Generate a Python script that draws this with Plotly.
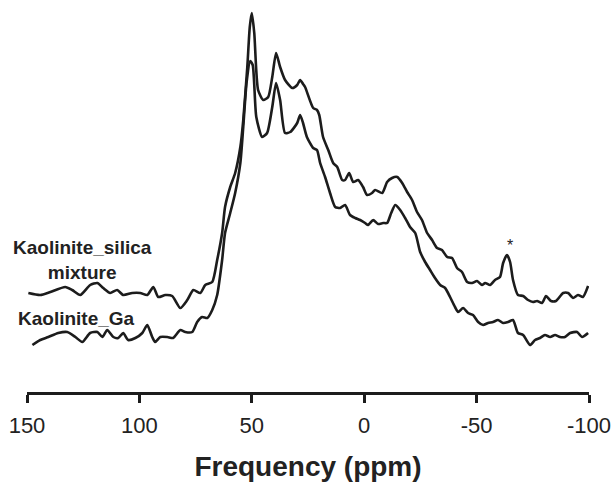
import plotly.graph_objects as go

# Chemical shift axis (ppm) and intensities (arbitrary units)
silica_ppm = [149.4, 144.1, 139.6, 133.0, 129.9, 126.3, 121.9, 118.7, 116.1, 113.0,
              109.9, 107.2, 103.2, 99.6, 96.5, 93.8, 91.6, 88.5, 85.4, 81.8,
              78.7, 76.0, 72.9, 70.7, 67.6, 65.4, 63.2, 61.9, 59.6, 57.4,
              55.1, 53.8, 52.0, 50.9, 50.0, 48.9, 47.2, 44.9, 42.7, 40.9, 39.2,
              37.4, 35.2, 32.0, 29.8, 28.5, 27.2, 26.3, 22.7, 21.0, 20.0,
              18.3, 16.0, 13.8, 12.0, 9.8, 8.5, 6.7, 4.9, 2.7, 0.5,
              -1.3, -3.5, -4.9, -8.0, -10.2, -12.4, -14.7, -16.9, -19.1, -21.3,
              -23.5, -25.7, -28.0, -30.2, -32.4, -34.6, -36.9, -39.1, -41.3, -43.5,
              -45.8, -48.0, -50.2, -52.4, -53.8, -56.0, -58.2, -60.4, -61.8, -63.5,
              -64.9, -66.2, -68.4, -70.7, -72.9, -75.1, -76.9, -79.1, -80.9, -83.1,
              -85.3, -88.5, -90.7, -92.9, -95.1, -97.3, -99.6]
silica_int = [99, 97, 100, 105, 102, 97, 107, 109, 104, 99,
              102, 97, 99, 99, 97, 105, 95, 97, 96, 84,
              92, 102, 99, 107, 110, 132, 159, 185, 205, 219,
              245, 272, 325, 365, 379, 359, 302, 292, 295, 315, 339,
              325, 312, 304, 307, 312, 308, 305, 284, 282, 277,
              255, 242, 229, 225, 212, 212, 219, 210, 212, 205,
              197, 199, 202, 199, 210, 214, 215, 209, 200, 192,
              180, 172, 159, 152, 144, 142, 135, 134, 124, 120,
              110, 109, 111, 107, 109, 107, 112, 115, 129, 137,
              130, 112, 97, 96, 92, 90, 91, 89, 96, 91,
              91, 99, 99, 94, 97, 95, 106]

ga_ppm = [147.6, 144.1, 140.5, 136.1, 132.1, 128.5, 125.4, 121.9, 118.7, 116.5,
          114.3, 111.6, 109.4, 107.2, 105.0, 101.8, 98.7, 96.5, 94.3, 93.0,
          90.7, 87.6, 85.0, 81.8, 79.6, 76.5, 74.3, 72.1, 69.8, 67.6,
          65.4, 63.2, 61.9, 59.6, 57.4, 55.1, 53.8, 52.3, 50.7, 49.6,
          48.0, 45.4, 43.2, 40.9, 39.2, 37.4, 35.2, 32.9, 29.8, 28.5,
          27.2, 25.5, 22.7, 21.0, 19.6, 17.4, 15.2, 12.9, 10.7, 8.5,
          6.3, 4.0, 1.8, -0.4, -1.7, -4.0, -6.2, -8.4, -10.2, -12.0,
          -13.8, -16.0, -18.2, -20.4, -22.7, -24.9, -27.1, -29.3, -31.5, -33.8,
          -36.0, -38.2, -40.4, -41.8, -44.0, -46.2, -48.4, -50.7, -52.9, -55.1,
          -57.3, -59.5, -61.8, -64.0, -66.2, -68.4, -70.7, -73.8, -76.0, -78.2,
          -80.4, -82.7, -84.9, -87.1, -89.3, -91.6, -94.7, -96.9, -99.6]
ga_int = [47, 52, 55, 59, 60, 55, 50, 59, 60, 55,
          62, 55, 54, 59, 52, 54, 59, 67, 55, 50,
          55, 55, 54, 62, 60, 60, 70, 75, 74, 82,
          97, 132, 159, 179, 199, 229, 265, 310, 331, 327,
          275, 255, 259, 285, 309, 292, 259, 260, 269, 277,
          269, 255, 244, 242, 229, 215, 199, 185, 184, 187,
          177, 174, 172, 169, 167, 172, 168, 169, 169, 179,
          187, 182, 174, 165, 159, 140, 130, 122, 114, 107,
          104, 95, 85, 80, 84, 79, 77, 70, 67, 69,
          70, 72, 69, 70, 72, 59, 57, 47, 52, 54,
          57, 55, 57, 55, 55, 59, 60, 55, 59]

tick_vals = [150, 100, 50, 0, -50, -100]
tick_text = ["150", "100", "50", "0", "-50", "-100"]

line_color = "#1c1c1c"
font_family = "Liberation Sans, Arial, sans-serif"

fig = go.Figure()
fig.add_trace(go.Scatter(x=silica_ppm, y=silica_int, mode="lines",
                         line=dict(color=line_color, width=2.6, shape="spline", smoothing=0.6),
                         hoverinfo="skip", showlegend=False))
fig.add_trace(go.Scatter(x=ga_ppm, y=ga_int, mode="lines",
                         line=dict(color=line_color, width=2.6, shape="spline", smoothing=0.6),
                         hoverinfo="skip", showlegend=False))

fig.add_annotation(x=125.4, y=132, text="<b>Kaolinite_silica<br>mixture</b>", showarrow=False,
                   xanchor="center", yanchor="middle", align="center",
                   font=dict(family=font_family, size=19, color="#222"))
fig.add_annotation(x=128.1, y=74, text="<b>Kaolinite_Ga</b>", showarrow=False,
                   xanchor="center", yanchor="middle",
                   font=dict(family=font_family, size=19, color="#222"))
fig.add_annotation(x=-64.9, y=147, text="*", showarrow=False,
                   xanchor="center", yanchor="middle",
                   font=dict(family=font_family, size=16, color="#222"))

fig.update_layout(
    width=613, height=487,
    margin=dict(l=27, r=24, t=0, b=95, autoexpand=False),
    paper_bgcolor="white", plot_bgcolor="white",
    font=dict(family=font_family, color="#222"),
    xaxis=dict(range=[150, -100], showgrid=False, zeroline=False, automargin=False,
               showline=True, linecolor=line_color, linewidth=3,
               ticks="outside", ticklen=8, tickwidth=3, tickcolor=line_color,
               tickvals=tick_vals, ticktext=tick_text, ticklabelstandoff=4,
               tickfont=dict(family=font_family, size=22, color="#222"),
               title=dict(text="<b>Frequency (ppm)</b>", standoff=19,
                          font=dict(family=font_family, size=28, color="#222"))),
    yaxis=dict(range=[0, 392], visible=False, showgrid=False, zeroline=False,
               automargin=False),
)

fig.write_html(
    "out.html",
    config={"displayModeBar": False, "staticPlot": True},
    post_script="document.body.style.margin='0';document.body.style.overflow='hidden';",
)
